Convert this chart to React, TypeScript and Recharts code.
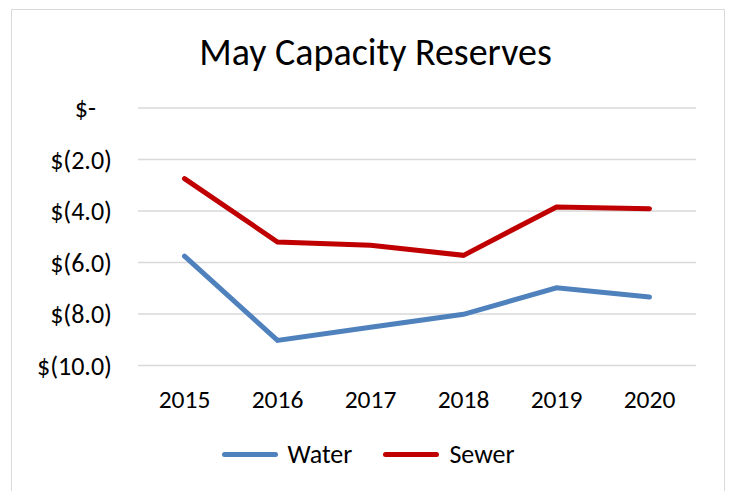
import { LineChart, Line, XAxis, YAxis, CartesianGrid, Legend } from "recharts";

const YEARS = ["2015", "2016", "2017", "2018", "2019", "2020"];
const WATER = [-5.75, -9.02, -8.51, -8.01, -6.98, -7.34];
const SEWER = [-2.74, -5.2, -5.33, -5.72, -3.84, -3.91];
const Y_TICKS = [0, -2, -4, -6, -8, -10];
const SERIES_ORDER = ["Water", "Sewer"];

const FONT = "Carlito, Calibri, Lato, sans-serif";
const WATER_COLOR = "#4f81bd";
const SEWER_COLOR = "#c00000";
const GRID_COLOR = "#d9d9d9";

const data = YEARS.map((year, i) => ({ year, water: WATER[i], sewer: SEWER[i] }));

// accounting-style labels: $(2.0), and "$-" for zero
function formatMoney(v: number): string {
  if (v === 0) return "$-";
  return `$(${Math.abs(v).toFixed(1)})`;
}

function YTick(props: any) {
  const { x, y, payload } = props;
  const shift = payload.value === 0 ? -16 : 0;
  return (
    <text
      x={x + shift}
      y={y}
      textAnchor="end"
      dominantBaseline="central"
      fill="#000"
      fontSize={26}
      fontFamily={FONT}
    >
      {formatMoney(payload.value)}
    </text>
  );
}

function LegendContent(props: any) {
  const items = [...(props.payload ?? [])].sort(
    (a: any, b: any) => SERIES_ORDER.indexOf(a.value) - SERIES_ORDER.indexOf(b.value)
  );
  return (
    <div style={{ display: "flex", justifyContent: "center", gap: 31, fontFamily: FONT, fontSize: 26 }}>
      {items.map((it: any) => (
        <div key={it.value} style={{ display: "flex", alignItems: "center", gap: 10 }}>
          <span style={{ width: 56, height: 5, borderRadius: 3, background: it.color, display: "inline-block" }} />
          <span style={{ color: "#000" }}>{it.value}</span>
        </div>
      ))}
    </div>
  );
}

export default function App() {
  return (
    <div style={{ position: "fixed", left: 0, top: 0, width: 730, height: 491, background: "#fff", overflow: "hidden" }}>
      <div
        style={{
          position: "absolute",
          left: 11,
          top: 9,
          width: 712,
          height: 500,
          border: `1px solid ${GRID_COLOR}`,
        }}
      />
      <div
        style={{
          position: "absolute",
          left: 0,
          top: 30,
          width: 751,
          textAlign: "center",
          fontFamily: FONT,
          fontSize: 38,
          lineHeight: "44px",
          color: "#000",
        }}
      >
        May Capacity Reserves
      </div>
      <LineChart
        width={730}
        height={491}
        data={data}
        margin={{ top: 108, right: 34, bottom: 0, left: 0 }}
        style={{ position: "absolute", left: 0, top: 0 }}
      >
        <CartesianGrid vertical={false} stroke={GRID_COLOR} strokeWidth={1.5} />
        <XAxis
          dataKey="year"
          axisLine={false}
          tickLine={false}
          tickSize={0}
          tickMargin={24}
          height={93.4}
          padding={{ left: 46.5, right: 46.5 }}
          tick={{ fill: "#000", fontSize: 25.5, fontFamily: FONT }}
        />
        <YAxis
          domain={[-10, 0]}
          ticks={Y_TICKS}
          axisLine={false}
          tickLine={false}
          tickSize={0}
          tickMargin={26}
          width={138}
          tick={<YTick />}
        />
        <Line
          dataKey="water"
          name="Water"
          type="linear"
          stroke={WATER_COLOR}
          strokeWidth={5}
          strokeLinecap="round"
          dot={false}
          isAnimationActive={false}
        />
        <Line
          dataKey="sewer"
          name="Sewer"
          type="linear"
          stroke={SEWER_COLOR}
          strokeWidth={5}
          strokeLinecap="round"
          dot={false}
          isAnimationActive={false}
        />
        <Legend
          content={<LegendContent />}
          wrapperStyle={{ position: "absolute", top: 438, left: 0, width: 736 }}
        />
      </LineChart>
    </div>
  );
}
